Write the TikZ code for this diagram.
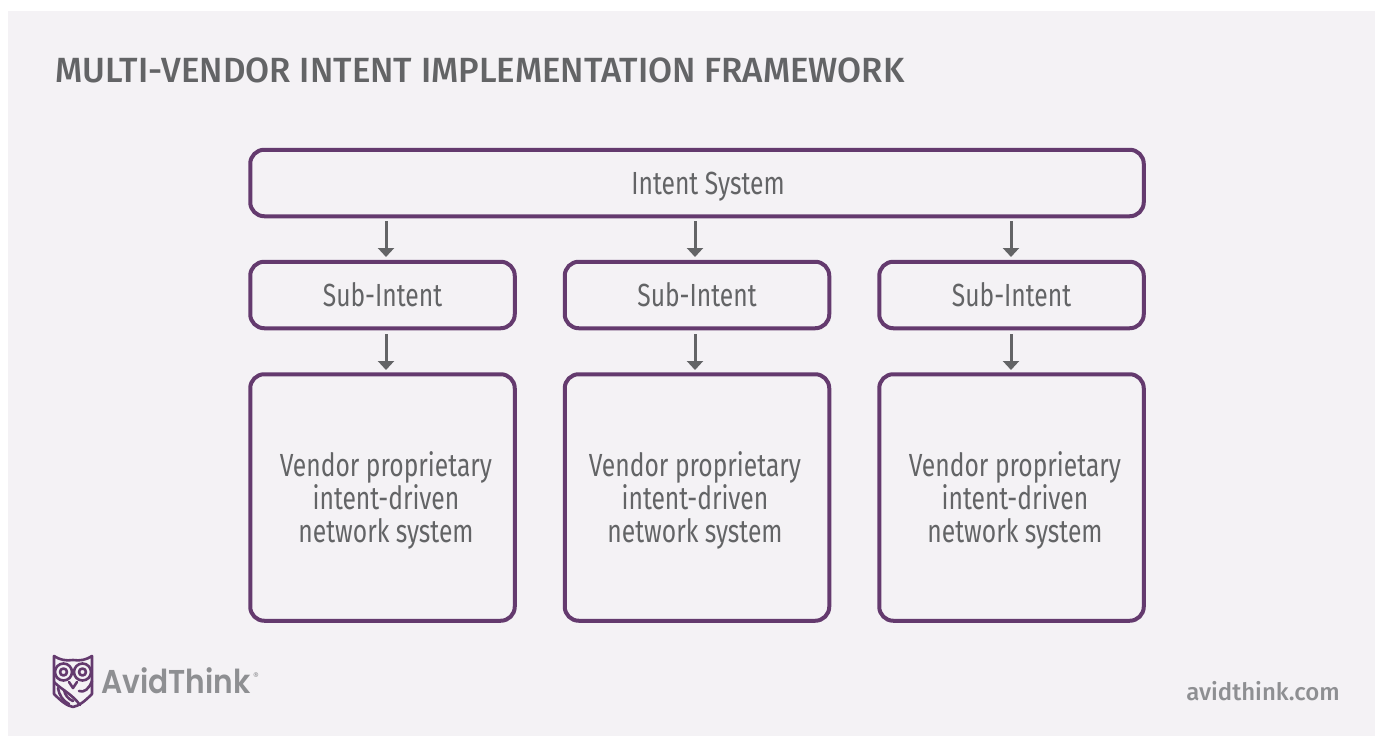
\documentclass[tikz,border=0pt]{standalone}
\usepackage{fontspec}
\setmainfont{Fira Sans}
\newfontfamily\condfont[FakeStretch=0.77]{Fira Sans}
\newfontfamily\titlefont[FakeStretch=0.995]{Fira Sans Medium}
\newfontfamily\urlfont{Fira Sans Medium}
\newfontfamily\logofont[FakeStretch=0.90]{Poppins SemiBold}
\definecolor{panelbg}{HTML}{F4F2F5}
\definecolor{plum}{HTML}{643A6E}
\definecolor{inkgray}{HTML}{636466}
\definecolor{logogray}{HTML}{8E8F92}
\usetikzlibrary{arrows.meta}
\tikzset{
  x=1pt,y=-1pt,
  box/.style={draw=plum,line width=4pt,rounded corners=14pt,fill=panelbg,inner sep=0pt},
  boxtext/.style={text=inkgray,font=\condfont\fontsize{32}{32.6}\selectfont,align=center,inner sep=0pt},
  link/.style={draw=inkgray,line width=3pt,-{Triangle[length=9pt,width=16pt]}},
  owl/.style={draw=plum,line width=2.6pt,line join=round,line cap=round}
}
\begin{document}
\begin{tikzpicture}
\useasboundingbox (0,0) rectangle (1375,736);
\fill[white] (0,0) rectangle (1375,736);
\fill[panelbg] (8,11) rectangle (1375,736);
\node[anchor=base west,text=inkgray,font=\titlefont\fontsize{35}{40}\selectfont,inner sep=0pt] (title) at (55,82) {MULTI-VENDOR INTENT IMPLEMENTATION FRAMEWORK};
\node[box,minimum width=893.5pt,minimum height=66.5pt] (sys) at (697,183) {};
\node[boxtext] (systext) at (708,187) {Intent System};
\foreach \n/\cx/\tx/\ax in {a/382.5/386/386,b/697/695/695,c/1011.5/1015/1011}{
  \node[box,minimum width=264.5pt,minimum height=66.5pt] (sub\n) at (\cx,295) {};
  \node[boxtext] (subt\n) at (\cx,295) {Sub-Intent};
  \node[box,minimum width=264.5pt,minimum height=246.5pt] (ven\n) at (\cx,497.5) {};
  \node[boxtext] (vent\n) at (\tx,500.5) {Vendor proprietary\\intent-driven\\network system};
  \coordinate (s\n) at (\ax,221);
  \coordinate (e\n) at (\ax,257);
  \coordinate (f\n) at (\ax,334);
  \coordinate (g\n) at (\ax,370);
  \draw[link] (s\n) -- (e\n);
  \draw[link] (f\n) -- (g\n);
}
\node[anchor=base west,text=logogray,font=\logofont\fontsize{33}{36}\selectfont,inner sep=0pt] (logo) at (101,693) {AvidThink};
\node[text=logogray,font=\fontsize{9}{10}\selectfont,inner sep=0pt] (reg) at (256,676) {®};
\node[anchor=east,text=logogray,font=\urlfont\fontsize{24}{28}\selectfont,inner sep=0pt] (url) at (1340,691) {avidthink.com};
\begin{scope}[owl]
 \draw (54,656) .. controls (60,660) and (66,661) .. (73,660) .. controls (80,661) and (86,660) .. (92,656) -- (92,694) .. controls (85,701) and (79,706) .. (73,707) .. controls (67,706) and (61,701) .. (54,694) -- cycle;
 \draw (63.5,672) circle (8.5pt);
 \draw (63.5,672) circle (3.5pt);
 \draw (82.5,672) circle (8.5pt);
 \draw (82.5,672) circle (3.5pt);
 \draw (69,682) -- (73,688) -- (77,682);
 \draw (54,682) .. controls (62,690) and (72,694) .. (80,705);
 \draw (58,688) .. controls (59,695) and (63,701) .. (69,704);
 \draw (64,690) .. controls (65,695) and (68,699) .. (73,701);
 \draw (92,681) .. controls (89,689) and (84,693) .. (79,691);
\end{scope}
\end{tikzpicture}
\end{document}
